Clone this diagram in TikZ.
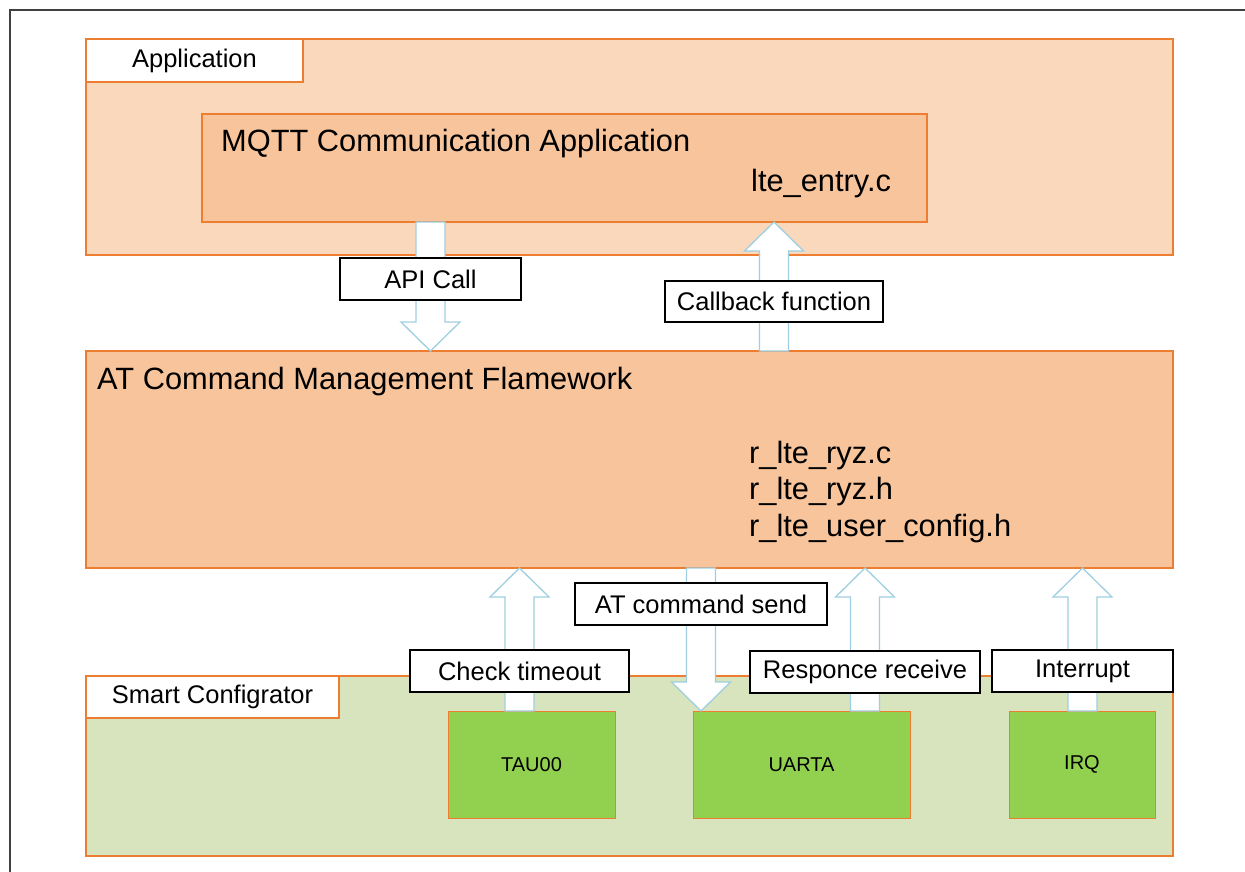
\documentclass[tikz,border=0pt]{standalone}
\usepackage{fontspec}
\setmainfont{Liberation Sans}
\usetikzlibrary{calc}
\pgfdeclarelayer{front}
\pgfsetlayers{main,front}
\definecolor{boxorange}{HTML}{ED7D31}
\definecolor{appfill}{HTML}{FAD8BC}
\definecolor{modfill}{HTML}{F8C49B}
\definecolor{scfill}{HTML}{D7E4BD}
\definecolor{periphgreen}{HTML}{92D050}
\definecolor{arrowblue}{HTML}{9FCFE0}
\tikzset{
  layerbox/.style={draw=boxorange, line width=2.5pt, anchor=north west, inner sep=0, outer sep=0},
  tagbox/.style={draw=boxorange, fill=white, line width=2.5pt, anchor=north west, outer sep=0,
    font=\fontsize{25.5}{30}\selectfont},
  periph/.style={draw=boxorange, fill=periphgreen, line width=1pt, anchor=north west, outer sep=0,
    font=\fontsize{20}{24}\selectfont},
  flowlabel/.style={draw=black, fill=white, line width=2pt, inner sep=0,
    font=\fontsize{25.5}{30}\selectfont},
  bigtext/.style={anchor=base west, inner sep=0, font=\fontsize{30.8}{36}\selectfont},
  blockarrow/.style={draw=arrowblue, fill=white, line width=1.3pt, line join=miter},
}
% hollow block arrow from tail #1 to tip #2
\newcommand{\blockarrow}[2]{%
  \path[blockarrow] let \p1=(#1), \p2=(#2), \p3=($(#2)!29pt!(#1)$) in
    (\x1-14.5pt,\y1) -- (\x1-14.5pt,\y3) -- (\x1-29.5pt,\y3) -- (\p2)
    -- (\x1+29.5pt,\y3) -- (\x1+14.5pt,\y3) -- (\x1+14.5pt,\y1) -- cycle;}

\begin{document}
\begin{tikzpicture}[x=1pt,y=-1pt]
  \useasboundingbox (0,0) rectangle (1245,872);
  \draw[line width=2pt, draw=black!75] (1245,10) -| (10,872);

  % application layer
  \node[layerbox, fill=appfill, minimum width=1087, minimum height=216] (app) at (86,39) {};
  \node[tagbox, minimum width=217, minimum height=43] (apptag) at (app.north west) {Application};
  \node[layerbox, fill=modfill, minimum width=725, minimum height=108] (mqtt) at (202,114) {};
  \node[bigtext] (mqtttitle) at (221,152) {MQTT Communication Application};
  \node[bigtext] (mqttfile) at (751,191) {lte\_entry.c};

  % framework layer
  \node[layerbox, fill=modfill, minimum width=1087, minimum height=217] (at) at (86,351) {};
  \node[bigtext] (attitle) at (97,389) {AT Command Management Flamework};
  \node[bigtext] (atfilea) at (749,463) {r\_lte\_ryz.c};
  \node[bigtext] (atfileb) at (749,499.5) {r\_lte\_ryz.h};
  \node[bigtext] (atfilec) at (749,536) {r\_lte\_user\_config.h};

  % smart configurator layer
  \node[layerbox, fill=scfill, minimum width=1087, minimum height=180] (sc) at (86,676) {};
  \node[tagbox, minimum width=253, minimum height=42] (sctag) at (sc.north west) {Smart Configrator};
  \node[periph, minimum width=167, minimum height=107] (tau) at (448,711) {TAU00};
  \node[periph, minimum width=217, minimum height=107] (uarta) at (693,711) {UARTA};
  \node[periph, minimum width=146, minimum height=107] (irq) at (1009,711) {IRQ};

  \begin{pgfonlayer}{front}
    \node[flowlabel, minimum width=181, minimum height=42] (apicall) at (430.5,279) {API Call};
    \node[flowlabel, minimum width=218, minimum height=41] (callback) at (774,301.5) {Callback function};
    \node[flowlabel, minimum width=252, minimum height=42] (atsend) at (701,604) {AT command send};
    \node[flowlabel, minimum width=219, minimum height=42] (timeout) at (519.5,671) {Check timeout};
    \node[flowlabel, minimum width=230, minimum height=42] (respons) at (865,672) {Responce receive};
    \node[flowlabel, minimum width=181, minimum height=42] (intr) at (1082.5,671) {Interrupt};
  \end{pgfonlayer}

  \blockarrow{mqtt.south -| apicall}{at.north -| apicall}
  \blockarrow{at.north -| callback}{mqtt.south -| callback}
  \blockarrow{tau.north -| timeout}{at.south -| timeout}
  \blockarrow{at.south -| atsend}{uarta.north -| atsend}
  \blockarrow{uarta.north -| respons}{at.south -| respons}
  \blockarrow{irq.north -| intr}{at.south -| intr}
\end{tikzpicture}
\end{document}
